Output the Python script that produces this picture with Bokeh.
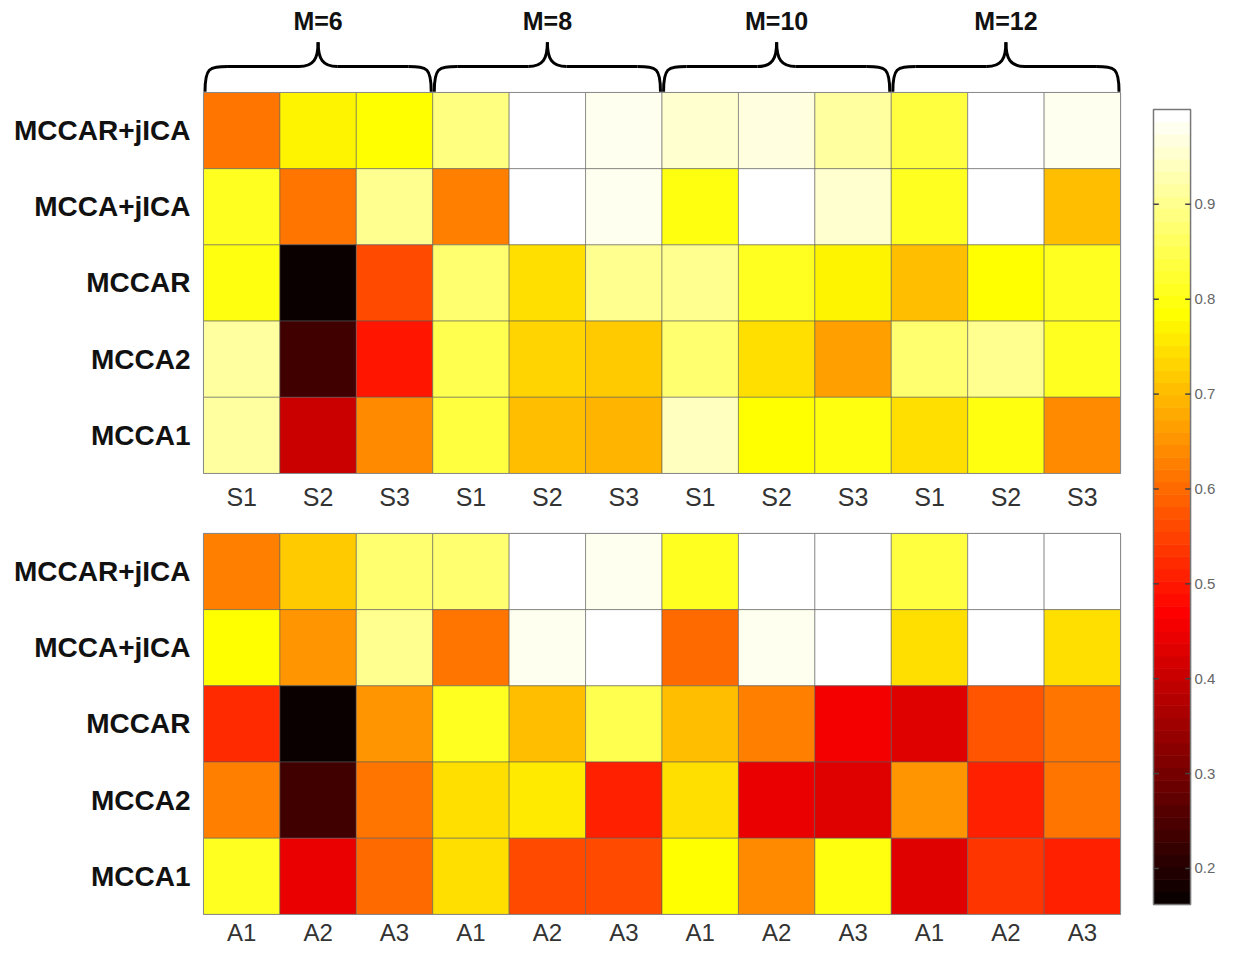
import numpy as np
from bokeh.plotting import figure
from bokeh.models import ColumnDataSource, Range1d
from bokeh.transform import linear_cmap
from bokeh.core.properties import value
from bokeh.embed import file_html
from bokeh.resources import INLINE

# ---------------- data ----------------
methods = ["MCCAR+jICA", "MCCA+jICA", "MCCAR", "MCCA2", "MCCA1"]   # top to bottom
groups = ["M=6", "M=8", "M=10", "M=12"]
top_ticks = ["S1", "S2", "S3"] * 4
bottom_ticks = ["A1", "A2", "A3"] * 4

top_values = [
    [0.62, 0.77, 0.79, 0.89, 1.00, 0.975, 0.96, 0.97, 0.915, 0.83, 1.00, 0.98],
    [0.81, 0.62, 0.905, 0.63, 1.00, 0.975, 0.80, 1.00, 0.955, 0.81, 1.00, 0.70],
    [0.80, 0.17, 0.555, 0.88, 0.74, 0.905, 0.90, 0.815, 0.77, 0.70, 0.79, 0.815],
    [0.92, 0.23, 0.495, 0.855, 0.73, 0.725, 0.88, 0.75, 0.66, 0.87, 0.90, 0.81],
    [0.92, 0.40, 0.64, 0.83, 0.70, 0.69, 0.945, 0.78, 0.80, 0.745, 0.80, 0.64],
]
bottom_values = [
    [0.63, 0.725, 0.88, 0.87, 1.00, 0.975, 0.81, 1.00, 1.00, 0.83, 1.00, 1.00],
    [0.79, 0.65, 0.90, 0.61, 0.98, 1.00, 0.595, 0.985, 1.00, 0.74, 1.00, 0.74],
    [0.52, 0.165, 0.655, 0.815, 0.70, 0.85, 0.70, 0.63, 0.46, 0.43, 0.575, 0.61],
    [0.625, 0.23, 0.61, 0.74, 0.76, 0.515, 0.75, 0.44, 0.43, 0.655, 0.51, 0.61],
    [0.815, 0.44, 0.595, 0.74, 0.555, 0.56, 0.78, 0.64, 0.80, 0.43, 0.54, 0.515],
]
cb_ticks = [0.2, 0.3, 0.4, 0.5, 0.6, 0.7, 0.8, 0.9]
cb_low, cb_high = 0.162, 1.0

# MATLAB "hot" colormap, 64 levels
n, n1, n2 = 64, 24, 24
r = [(i + 1) / n1 for i in range(n1)] + [1.0] * (n - n1)
g = [0.0] * n1 + [(i + 1) / n2 for i in range(n2)] + [1.0] * (n - n1 - n2)
b = [0.0] * (n1 + n2) + [(i + 1) / (n - n1 - n2) for i in range(n - n1 - n2)]
hot = ["#%02x%02x%02x" % (int(round(rr * 255)), int(round(gg * 255)), int(round(bb * 255)))
       for rr, gg, bb in zip(r, g, b)]

# ---------------- layout constants ----------------
FONT = value("Liberation Sans")
ncols = 12
bottom_offset = 5.787

p = figure(width=1222, height=948,
           x_range=Range1d(-2.656, 13.334), y_range=Range1d(11.234, -1.207),
           x_axis_location=None, y_axis_location=None,
           output_backend="svg", toolbar_location=None, min_border=0)
p.grid.visible = False
p.outline_line_color = None
p.background_fill_color = "white"
p.border_fill_color = "white"


def panel(vals, offset, ticks, label_gap, tick_size):
    xs, ys, vs = [], [], []
    for ri, row in enumerate(vals):
        for ci, v in enumerate(row):
            xs.append(ci + 0.5)
            ys.append(offset + ri + 0.5)
            vs.append(v)
    src = ColumnDataSource(dict(x=xs, y=ys, v=vs))
    p.rect("x", "y", width=1, height=1, source=src,
           fill_color=linear_cmap("v", hot, cb_low, cb_high),
           line_color="#5a5a5a", line_alpha=0.55, line_width=1)
    # outer frame
    p.rect(x=[ncols / 2], y=[offset + len(vals) / 2], width=ncols, height=len(vals),
           fill_color=None, line_color="#8a8a8a", line_width=1)
    # row labels
    p.text(x=[-0.17] * len(methods), y=[offset + i + 0.5 for i in range(len(methods))],
           text=methods, text_align="right", text_baseline="middle",
           text_font=FONT, text_font_style="bold", text_font_size="28px", text_color="#111111")
    # column labels
    p.text(x=[c + 0.5 for c in range(ncols)], y=[offset + len(vals) + label_gap] * ncols,
           text=ticks, text_align="center", text_baseline="middle",
           text_font=FONT, text_font_size=tick_size, text_color="#333333")


panel(top_values, 0.0, top_ticks, 0.31, "25px")
panel(bottom_values, bottom_offset, bottom_ticks, 0.235, "24px")

# ---------------- braces over groups ----------------
y_end, y_hor, y_peak = -0.01, -0.34, -0.66
for gi, name in enumerate(groups):
    a = gi * 3 + 0.02
    bb = gi * 3 + 3 - 0.02
    m = (a + bb) / 2
    # ends
    p.bezier(x0=[a, bb], y0=[y_end, y_end], x1=[a + 0.3, bb - 0.3], y1=[y_hor, y_hor],
             cx0=[a, bb], cy0=[y_hor + 0.02, y_hor + 0.02],
             cx1=[a + 0.05, bb - 0.05], cy1=[y_hor, y_hor],
             line_color="black", line_width=3)
    # horizontals
    p.segment(x0=[a + 0.3, m + 0.25], y0=[y_hor, y_hor], x1=[m - 0.25, bb - 0.3], y1=[y_hor, y_hor],
              line_color="black", line_width=3)
    # middle point
    p.bezier(x0=[m - 0.25, m + 0.25], y0=[y_hor, y_hor], x1=[m, m], y1=[y_peak, y_peak],
             cx0=[m - 0.06, m + 0.06], cy0=[y_hor, y_hor],
             cx1=[m, m], cy1=[y_hor - 0.1, y_hor - 0.1],
             line_color="black", line_width=3)
    p.text(x=[m], y=[-0.94], text=[name], text_align="center", text_baseline="middle",
           text_font=FONT, text_font_style="bold", text_font_size="25px", text_color="#111111")

# ---------------- colour bar ----------------
p.extra_y_ranges = {"cb": Range1d(0.1156, 1.1149)}
cb_x0, cb_x1 = 12.431, 12.916
step = (cb_high - cb_low) / len(hot)
cb_src = ColumnDataSource(dict(
    y=[cb_low + (i + 0.5) * step for i in range(len(hot))],
    c=hot))
p.rect(x=(cb_x0 + cb_x1) / 2, y="y", width=cb_x1 - cb_x0, height=step * 1.02,
       fill_color="c", line_color="c", line_width=0.5, source=cb_src, y_range_name="cb")
p.rect(x=[(cb_x0 + cb_x1) / 2], y=[(cb_low + cb_high) / 2], width=cb_x1 - cb_x0,
       height=cb_high - cb_low, fill_color=None, line_color="#777777", line_width=1.5,
       y_range_name="cb")
tl = 0.07
p.segment(x0=[cb_x0] * len(cb_ticks), y0=cb_ticks, x1=[cb_x0 + tl] * len(cb_ticks), y1=cb_ticks,
          line_color="#444444", line_width=1.5, y_range_name="cb")
p.segment(x0=[cb_x1 - tl] * len(cb_ticks), y0=cb_ticks, x1=[cb_x1] * len(cb_ticks), y1=cb_ticks,
          line_color="#444444", line_width=1.5, y_range_name="cb")
p.text(x=[cb_x1 + 0.05] * len(cb_ticks), y=cb_ticks, text=[str(t) for t in cb_ticks],
       text_align="left", text_baseline="middle", text_font=FONT, text_font_size="15px",
       text_color="#666666", y_range_name="cb")

open("out.html", "w").write(file_html(p, INLINE))
